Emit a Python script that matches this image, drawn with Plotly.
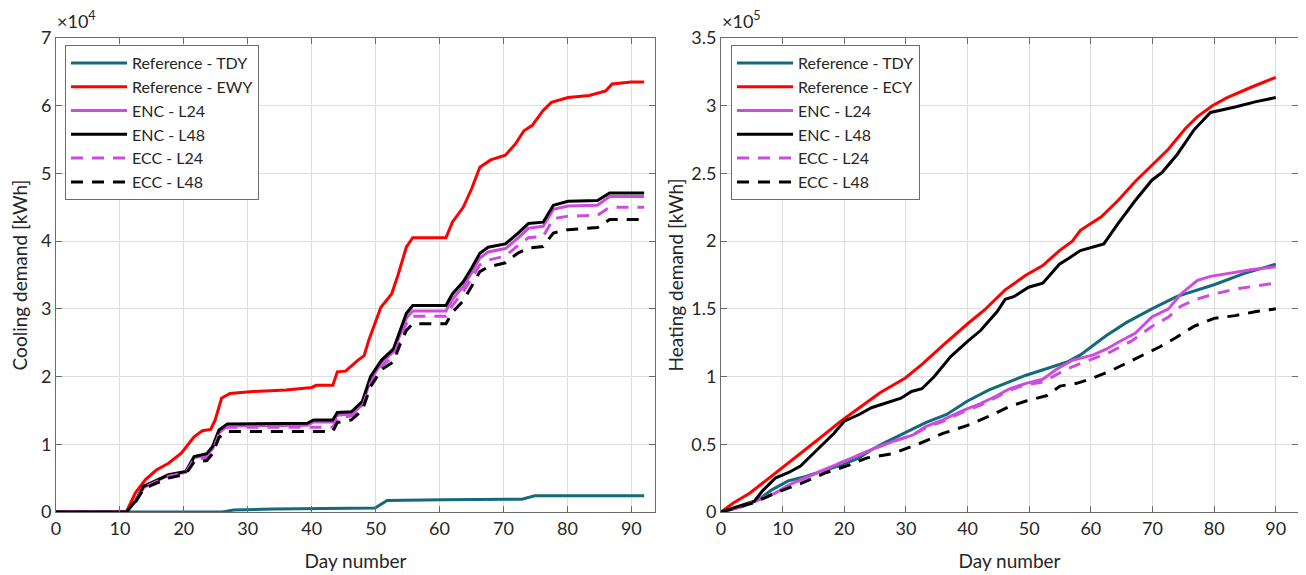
import plotly.graph_objects as go

# ---------------- Left panel: cooling demand (x10^4 kWh) ----------------
cool_ref_tdy_x = [0, 26, 27.8, 34, 49.9, 51, 51.8, 60.4, 72.9, 74.9, 92]
cool_ref_tdy_y = [0, 0, 0.03, 0.045, 0.06, 0.13, 0.17, 0.18, 0.19, 0.24, 0.24]

cool_ref_ewy_x = [0, 11, 12.4, 14, 15.7, 17.6, 19.6, 21.6, 22.9, 24.2, 24.9, 25.9, 27.2, 30.8, 36, 40,
                  40.7, 43.3, 44, 45.3, 47.2, 48.2, 48.9, 49.9, 50.8, 52.5, 53.5, 54.8, 55.8, 61, 62,
                  63.7, 65, 66.3, 68, 70.3, 71.9, 73.2, 74.5, 76.2, 77.5, 80.1, 83.4, 86, 87, 90, 92]
cool_ref_ewy_y = [0, 0, 0.28, 0.48, 0.62, 0.72, 0.87, 1.11, 1.2, 1.22, 1.36, 1.68, 1.75, 1.78, 1.8, 1.84,
                  1.87, 1.87, 2.07, 2.08, 2.24, 2.31, 2.53, 2.78, 3.02, 3.22, 3.5, 3.91, 4.05, 4.05, 4.28,
                  4.5, 4.77, 5.09, 5.2, 5.27, 5.44, 5.63, 5.71, 5.93, 6.05, 6.12, 6.15, 6.22, 6.32, 6.35, 6.35]

cool_days = [0, 11, 12.4, 13.7, 15.3, 17.6, 20.3, 21.6, 23.6, 24.5, 25.5, 26.8, 39.3, 40.3, 43.3, 44,
             46.2, 47.9, 49.2, 50.9, 52.8, 53.8, 54.8, 55.8, 61, 62, 63.7, 65, 66.3, 67.6, 70.3, 72.2,
             73.9, 76.2, 77.8, 80.1, 84.7, 86.6, 92]
cool_enc_l24 = [0, 0, 0.15, 0.36, 0.44, 0.54, 0.59, 0.80, 0.84, 0.93, 1.17, 1.27, 1.28, 1.33, 1.33, 1.43,
                1.45, 1.58, 1.95, 2.2, 2.37, 2.62, 2.86, 2.97, 2.97, 3.14, 3.33, 3.53, 3.75, 3.84, 3.89, 4.04,
                4.19, 4.22, 4.47, 4.52, 4.53, 4.66, 4.66]
cool_enc_l48 = [0, 0, 0.16, 0.38, 0.45, 0.55, 0.6, 0.82, 0.86, 0.97, 1.21, 1.30, 1.31, 1.36, 1.36, 1.47,
                1.48, 1.63, 2.0, 2.24, 2.41, 2.68, 2.93, 3.05, 3.05, 3.22, 3.4, 3.6, 3.82, 3.91, 3.96, 4.11,
                4.26, 4.28, 4.53, 4.59, 4.6, 4.71, 4.71]
cool_ecc_l24 = [0, 0, 0.15, 0.36, 0.43, 0.53, 0.58, 0.78, 0.8, 0.9, 1.15, 1.25, 1.25, 1.25, 1.25, 1.38,
                1.42, 1.55, 1.9, 2.15, 2.3, 2.55, 2.78, 2.89, 2.89, 3.05, 3.25, 3.45, 3.65, 3.72, 3.78, 3.93,
                4.05, 4.07, 4.33, 4.37, 4.38, 4.5, 4.5]
cool_ecc_l48 = [0, 0, 0.14, 0.34, 0.41, 0.5, 0.56, 0.74, 0.76, 0.86, 1.1, 1.19, 1.19, 1.19, 1.19, 1.32,
                1.36, 1.5, 1.85, 2.1, 2.22, 2.47, 2.68, 2.78, 2.78, 2.95, 3.12, 3.33, 3.55, 3.62, 3.68, 3.82,
                3.9, 3.92, 4.12, 4.17, 4.2, 4.32, 4.32]

# ---------------- Right panel: heating demand (x10^5 kWh) ----------------
heat_ref_tdy_x = [0, 3.4, 6.1, 8.1, 10.9, 13.6, 16.3, 19.7, 22.4, 24.4, 26.5, 29.2, 31.2, 33.2, 36.6, 40,
                  43.4, 46.8, 49.5, 52.9, 56.3, 58.3, 60.4, 62.4, 65.8, 69.9, 73.9, 76.7, 80.1, 84.8, 90]
heat_ref_tdy_y = [0, 0.04, 0.09, 0.16, 0.23, 0.26, 0.30, 0.35, 0.40, 0.46, 0.51, 0.57, 0.61, 0.66, 0.72, 0.82,
                  0.90, 0.96, 1.01, 1.06, 1.11, 1.16, 1.23, 1.30, 1.40, 1.50, 1.59, 1.63, 1.68, 1.76, 1.83]

heat_ref_ecy_x = [0, 2, 4.7, 7.5, 10.2, 12.9, 15.6, 19.7, 22.4, 25.8, 29.9, 32.6, 36, 40, 42.7, 46.1,
                  49.5, 52.2, 54.9, 57, 58.3, 61.7, 64.4, 67.2, 69.9, 72.6, 75.3, 77.3, 79.7, 82.1, 86.2, 90]
heat_ref_ecy_y = [0, 0.066, 0.14, 0.24, 0.34, 0.43, 0.53, 0.68, 0.77, 0.88, 0.99, 1.09, 1.23, 1.39, 1.49, 1.64,
                  1.75, 1.82, 1.93, 2.0, 2.08, 2.18, 2.30, 2.44, 2.56, 2.68, 2.83, 2.92, 3.0, 3.06, 3.14, 3.21]

heat_enc_l24_x = [0, 3.4, 6.1, 8.8, 11.5, 15.6, 19, 21.7, 24.4, 27.8, 31.2, 33.2, 36, 39.3, 42.1, 44.8,
                  46.8, 49.5, 52.2, 54.3, 57, 60.4, 62.4, 65.1, 67.2, 69.9, 72.6, 74.6, 77.3, 79.4, 82.1, 86.2, 90]
heat_enc_l24_y = [0, 0.04, 0.09, 0.14, 0.21, 0.29, 0.36, 0.41, 0.46, 0.52, 0.57, 0.63, 0.68, 0.75, 0.80, 0.86,
                  0.91, 0.95, 0.98, 1.05, 1.12, 1.16, 1.20, 1.27, 1.32, 1.44, 1.50, 1.61, 1.71, 1.74, 1.76, 1.79, 1.81]

heat_enc_l48_x = [0, 5.4, 6.8, 8.8, 10.9, 12.9, 15.6, 18.3, 20, 22.4, 24.4, 26.5, 29.2, 30.9, 32.6, 34.6,
                  37.3, 40, 42.1, 44.8, 46.1, 47.5, 49.9, 52.2, 54.9, 56.3, 58.3, 62.1, 64.4, 67.2, 69.9,
                  71.6, 74, 76.7, 79.4, 83.4, 86.8, 90]
heat_enc_l48_y = [0, 0.08, 0.16, 0.25, 0.29, 0.34, 0.46, 0.58, 0.67, 0.72, 0.77, 0.80, 0.84, 0.89, 0.91, 1.0,
                  1.15, 1.26, 1.34, 1.48, 1.57, 1.59, 1.66, 1.69, 1.83, 1.87, 1.93, 1.98, 2.13, 2.30, 2.45,
                  2.51, 2.64, 2.82, 2.95, 2.99, 3.03, 3.06]

heat_ecc_l24_x = [0, 3.4, 6.1, 8.8, 11.5, 15.6, 19, 21.7, 24.4, 27.8, 31.2, 33.2, 36, 39.3, 42.1, 44.8,
                  46.8, 49.5, 52.2, 56.3, 60.4, 63.1, 66.5, 69.9, 72.6, 74.6, 77, 80, 84, 90]
heat_ecc_l24_y = [0, 0.04, 0.09, 0.14, 0.21, 0.29, 0.36, 0.41, 0.46, 0.52, 0.57, 0.62, 0.67, 0.74, 0.79, 0.85,
                  0.90, 0.94, 0.96, 1.06, 1.13, 1.18, 1.26, 1.37, 1.44, 1.52, 1.57, 1.61, 1.65, 1.69]

heat_ecc_l48_x = [0, 5.4, 8.8, 12.9, 17, 20.4, 23.7, 27.8, 31.9, 36, 40, 44.1, 46.8, 49.5, 52.9, 55,
                  57.7, 60.4, 63.1, 65.8, 68.5, 71.2, 73.9, 76.7, 80, 83.4, 86.8, 90]
heat_ecc_l48_y = [0, 0.07, 0.14, 0.21, 0.29, 0.34, 0.40, 0.43, 0.50, 0.58, 0.64, 0.72, 0.78, 0.82, 0.86, 0.93,
                  0.95, 0.99, 1.04, 1.10, 1.16, 1.22, 1.29, 1.37, 1.43, 1.45, 1.48, 1.50]

x_ticks = [0, 10, 20, 30, 40, 50, 60, 70, 80, 90]
cool_y_ticks = [0, 1, 2, 3, 4, 5, 6, 7]
heat_y_ticks = [0, 0.5, 1, 1.5, 2, 2.5, 3, 3.5]
heat_y_ticktext = ["0", "0.5", "1", "1.5", "2", "2.5", "3", "3.5"]

TEAL = "#14697A"
RED = "#FF0000"
MAG = "#CC4DDD"
BLK = "#000000"
LW = 3
DASH = "12px,9px"
FONT = "Lato"

fig = go.Figure()

def add(x, y, name, color, dash, xa, ya, legend):
    fig.add_trace(go.Scatter(x=x, y=y, name=name, mode="lines",
                             line=dict(color=color, width=LW, dash=dash),
                             xaxis=xa, yaxis=ya, legend=legend))

add(cool_ref_tdy_x, cool_ref_tdy_y, "Reference - TDY", TEAL, "solid", "x", "y", "legend")
add(cool_ref_ewy_x, cool_ref_ewy_y, "Reference - EWY", RED, "solid", "x", "y", "legend")
add(cool_days, cool_enc_l24, "ENC - L24", MAG, "solid", "x", "y", "legend")
add(cool_days, cool_enc_l48, "ENC - L48", BLK, "solid", "x", "y", "legend")
add(cool_days, cool_ecc_l24, "ECC - L24", MAG, DASH, "x", "y", "legend")
add(cool_days, cool_ecc_l48, "ECC - L48", BLK, DASH, "x", "y", "legend")

add(heat_ref_tdy_x, heat_ref_tdy_y, "Reference - TDY", TEAL, "solid", "x2", "y2", "legend2")
add(heat_ref_ecy_x, heat_ref_ecy_y, "Reference - ECY", RED, "solid", "x2", "y2", "legend2")
add(heat_enc_l24_x, heat_enc_l24_y, "ENC - L24", MAG, "solid", "x2", "y2", "legend2")
add(heat_enc_l48_x, heat_enc_l48_y, "ENC - L48", BLK, "solid", "x2", "y2", "legend2")
add(heat_ecc_l24_x, heat_ecc_l24_y, "ECC - L24", MAG, DASH, "x2", "y2", "legend2")
add(heat_ecc_l48_x, heat_ecc_l48_y, "ECC - L48", BLK, DASH, "x2", "y2", "legend2")

# The page body adds an 8px offset, so the figure is 8px smaller and margins shifted.
OFF = 8
W, H = 1306 - OFF, 575 - OFF
ML, MR, MT, MB = 56 - OFF, 1306 - 1298, 38 - OFF, 575 - 512
PW = W - ML - MR
PH = H - MT - MB
def px(xp):
    return (xp - OFF - ML) / PW
def py(yp):
    return 1 - (yp - OFF - MT) / PH

def axis_common():
    return dict(showline=True, linecolor="#6b6b6b", linewidth=1, mirror="ticks",
                ticks="inside", ticklen=6, tickcolor="#6b6b6b", automargin=False,
                showgrid=True, gridcolor="#dedede", gridwidth=1, zeroline=False,
                tickfont=dict(family=FONT, size=18, color="#262626"))

title_font = dict(family=FONT, size=19, color="#262626")

fig.update_layout(
    width=W, height=H,
    margin=dict(l=ML, r=MR, t=MT, b=MB),
    paper_bgcolor="white", plot_bgcolor="white",
    font=dict(family=FONT, color="#262626"),
    xaxis=dict(domain=[0, px(655)], range=[0, 93.7], tickvals=x_ticks,
               title=dict(text="Day number", standoff=17, font=title_font), anchor="y", **axis_common()),
    yaxis=dict(domain=[0, 1], range=[0, 7], tickvals=cool_y_ticks,
               title=dict(text="Cooling demand [kWh]", standoff=14, font=title_font), anchor="x", **axis_common()),
    xaxis2=dict(domain=[px(721), 1], range=[0, 93.6], tickvals=x_ticks,
                title=dict(text="Day number", standoff=17, font=title_font), anchor="y2", **axis_common()),
    yaxis2=dict(domain=[0, 1], range=[0, 3.5], tickvals=heat_y_ticks, ticktext=heat_y_ticktext,
                title=dict(text="Heating demand [kWh]", standoff=2, font=title_font), anchor="x2", **axis_common()),
    legend=dict(x=px(65), y=py(45), xanchor="left", yanchor="top", itemwidth=56,
                bgcolor="white", bordercolor="#6b6b6b", borderwidth=1,
                font=dict(family=FONT, size=16, color="#262626"), tracegroupgap=0),
    legend2=dict(x=px(731), y=py(45), xanchor="left", yanchor="top", itemwidth=56,
                 bgcolor="white", bordercolor="#6b6b6b", borderwidth=1,
                 font=dict(family=FONT, size=16, color="#262626"), tracegroupgap=0),
    showlegend=True,
    annotations=[
        dict(text="×10<sup>4</sup>", xref="paper", yref="paper", x=px(55), y=py(34),
             xanchor="left", yanchor="bottom", showarrow=False,
             font=dict(family=FONT, size=18, color="#262626")),
        dict(text="×10<sup>5</sup>", xref="paper", yref="paper", x=px(720), y=py(34),
             xanchor="left", yanchor="bottom", showarrow=False,
             font=dict(family=FONT, size=18, color="#262626")),
    ],
)

fig.write_html("out.html")
